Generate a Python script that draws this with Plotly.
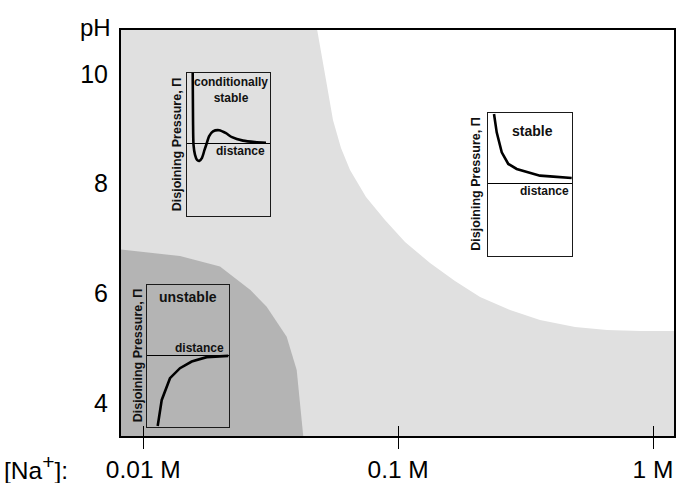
import plotly.graph_objects as go

# ---------------- data ----------------
na_tick_vals = [0.01, 0.1, 1]
na_tick_text = ["0.01 M", "0.1 M", "1 M"]
ph_tick_vals = [4, 6, 8, 10]

# boundary of the "unstable" (dark) region
unstable_na = [0.00810, 0.01393, 0.0200, 0.02632, 0.03049, 0.03653, 0.03999, 0.04121, 0.04246]
unstable_ph = [6.80, 6.68, 6.49, 6.06, 5.756, 5.209, 4.60, 3.994, 3.38]

# boundary of the "stable" (white) region
stable_na = [0.04804, 0.04981, 0.05211, 0.05550, 0.05967, 0.06474, 0.07479, 0.08879, 0.1064,
             0.1334, 0.1671, 0.2096, 0.2748, 0.3602, 0.4943, 0.6600, 0.8890, 1.22]
stable_ph = [10.821, 10.438, 9.891, 9.161, 8.650, 8.249, 7.757, 7.337, 6.936,
             6.553, 6.225, 5.933, 5.696, 5.513, 5.386, 5.331, 5.313, 5.313]
ph_top = 11.5

# inset curves (distance, disjoining pressure)
cond_d = [0.072, 0.076, 0.082, 0.10, 0.124, 0.151, 0.184, 0.214, 0.24, 0.268, 0.316,
          0.391, 0.472, 0.544, 0.676, 0.82, 0.952]
cond_p = [0.99, 0.33, -0.02, -0.16, -0.23, -0.243, -0.2, -0.09, 0.0, 0.10, 0.17,
          0.186, 0.144, 0.088, 0.04, 0.02, 0.011]
stab_d = [0.068, 0.10, 0.16, 0.238, 0.338, 0.476, 0.615, 0.774, 0.993]
stab_p = [0.98, 0.723, 0.443, 0.28, 0.21, 0.163, 0.116, 0.102, 0.084]
unst_d = [0.133, 0.182, 0.282, 0.403, 0.545, 0.726, 0.988]
unst_p = [-1.0, -0.632, -0.325, -0.184, -0.09, -0.028, -0.01]

# ---------------- style ----------------
LIGHT = "#e0e0e0"
DARK = "#b4b4b4"
FONT = "Liberation Sans, Arial, sans-serif"
INK = "#111111"

fig = go.Figure()

# dark (unstable) region
fig.add_trace(go.Scatter(x=unstable_na, y=unstable_ph, mode="lines", fill="tozeroy",
                         fillcolor=DARK, line=dict(width=0, color=DARK),
                         hoverinfo="skip", showlegend=False))
# white (stable) region
fig.add_trace(go.Scatter(x=stable_na + [stable_na[-1], stable_na[0]],
                         y=stable_ph + [ph_top, ph_top],
                         mode="lines", fill="toself", fillcolor="white",
                         line=dict(width=0, color="white"),
                         hoverinfo="skip", showlegend=False))
# dummy trace for inside-tick overlay axis
fig.add_trace(go.Scatter(x=[na_tick_vals[0]], y=[None], xaxis="x5", yaxis="y",
                         mode="lines", hoverinfo="skip", showlegend=False))

# inset curves
curve = dict(color="black", width=2.6)
fig.add_trace(go.Scatter(x=cond_d, y=cond_p, xaxis="x2", yaxis="y2", mode="lines",
                         line=dict(shape="spline", smoothing=0.7, **curve),
                         hoverinfo="skip", showlegend=False))
fig.add_trace(go.Scatter(x=stab_d, y=stab_p, xaxis="x3", yaxis="y3", mode="lines",
                         line=curve, hoverinfo="skip", showlegend=False))
fig.add_trace(go.Scatter(x=unst_d, y=unst_p, xaxis="x4", yaxis="y4", mode="lines",
                         line=curve, hoverinfo="skip", showlegend=False))

main_xrange = [-2.0875, 0.0824]
main_yrange = [3.398, 10.8025]

layout = dict(
    width=678, height=483,
    margin=dict(l=121, r=4, t=30, b=47, pad=0, autoexpand=False),
    paper_bgcolor="white",
    plot_bgcolor="rgba(0,0,0,0)",
    font=dict(family=FONT, color="black"),
    showlegend=False,
    xaxis=dict(type="log", range=main_xrange, tickvals=na_tick_vals, ticktext=na_tick_text,
               ticks="outside", ticklen=11, tickwidth=1, tickcolor="black",
               showline=True, linewidth=2, linecolor="black", mirror=True,
               showgrid=False, zeroline=False, tickfont=dict(size=24.5, family=FONT),
               ticklabelstandoff=0, domain=[0, 1], anchor="y", automargin=False),
    yaxis=dict(range=main_yrange, tickvals=ph_tick_vals, ticks="",
               showline=True, linewidth=2, linecolor="black", mirror=True,
               showgrid=False, zeroline=False, tickfont=dict(size=25, family=FONT),
               ticklabelstandoff=6, domain=[0, 1], anchor="x", automargin=False),
    xaxis5=dict(type="log", range=main_xrange, tickvals=na_tick_vals, overlaying="x",
                anchor="y", ticks="inside", ticklen=10, tickwidth=1, tickcolor="black",
                showticklabels=False, showline=False, showgrid=False, zeroline=False,
                automargin=False),
)

inset_yrange = [-1.01, 0.99]
inset_domains = {
    2: ([0.1188, 0.2694], [0.5426, 0.8948]),
    3: ([0.6642, 0.8161], [0.4433, 0.7948]),
    4: ([0.0465, 0.1958], [0.0229, 0.3719]),
}
for k, (dx, dy) in inset_domains.items():
    layout[f"xaxis{k}"] = dict(domain=dx, anchor=f"y{k}", range=[0, 1],
                               showline=True, mirror=True, linewidth=1.2, linecolor="#1a1a1a",
                               showgrid=False, zeroline=False, showticklabels=False, ticks="",
                               automargin=False)
    layout[f"yaxis{k}"] = dict(domain=dy, anchor=f"x{k}", range=inset_yrange,
                               showline=True, mirror=True, linewidth=1.2, linecolor="#1a1a1a",
                               showgrid=False, zeroline=True, zerolinecolor="black",
                               zerolinewidth=1, showticklabels=False, ticks="",
                               automargin=False)

fig.update_layout(**layout)

ann = []
# main labels
ann.append(dict(text="pH", xref="paper", yref="paper", x=-0.046, y=1.005,
                xanchor="center", yanchor="middle", showarrow=False,
                font=dict(size=24, family=FONT, color="black")))
ann.append(dict(text="[Na<sup><span style=\"font-size:21px\">+</span></sup>]:",
                xref="paper", yref="paper", x=-0.2152, y=-0.076,
                xanchor="left", yanchor="middle", showarrow=False,
                font=dict(size=24.5, family=FONT, color="black")))

ylabel = "<b>Disjoining Pressure, \u03a0</b>"
titles = {
    2: ("<b>conditionally<br>stable</b>", 0.532, 0.745, 12, 0.96, -0.108, 9.7),
    3: ("<b>stable</b>", 0.526, 0.747, 14, 0.99, -0.104, 12.3),
    4: ("<b>unstable</b>", 0.504, 0.82, 14, 0.96, 0.099, 8.4),
}
for k, (t, tx, ty, ts, dxr, dy, lshift) in titles.items():
    ann.append(dict(text=t, xref=f"x{k}", yref=f"y{k}", x=tx, y=ty, xanchor="center",
                    yanchor="middle", showarrow=False,
                    font=dict(size=ts, family=FONT, color=INK)))
    ann.append(dict(text="<b>distance</b>", xref=f"x{k}", yref=f"y{k}", x=dxr, y=dy,
                    xanchor="right", yanchor="middle", showarrow=False,
                    font=dict(size=12, family=FONT, color=INK)))
    ann.append(dict(text=ylabel, xref=f"x{k} domain", yref=f"y{k} domain", x=0, y=0.5,
                    xshift=-lshift, xanchor="center", yanchor="middle", textangle=-90,
                    showarrow=False, font=dict(size=12.5, family=FONT, color=INK)))

fig.update_layout(annotations=ann)
fig.add_shape(type="rect", xref="x domain", yref="y domain", x0=0, x1=1, y0=0, y1=1,
              fillcolor=LIGHT, line=dict(width=0), layer="below")

fig.write_html("out.html", config={"displayModeBar": False},
               post_script="document.body.style.margin='0';document.body.style.overflow='hidden';")
